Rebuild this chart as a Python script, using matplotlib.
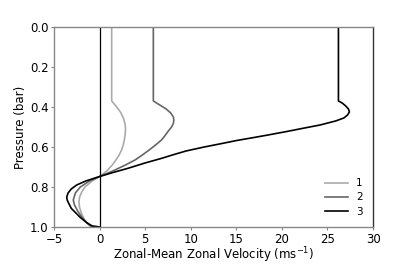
import matplotlib
matplotlib.use("Agg")
import matplotlib.pyplot as plt

# pressure (bar) / zonal-mean zonal velocity (m/s)
p1 = [0.0, 0.37, 0.39, 0.41, 0.43, 0.46, 0.49, 0.515, 0.54, 0.565, 0.59, 0.615,
      0.64, 0.665, 0.69, 0.72, 0.748, 0.77, 0.8, 0.825, 0.85, 0.873, 0.9, 0.93,
      0.96, 0.98, 0.995, 1.0]
u1 = [1.33, 1.33, 1.7, 2.05, 2.35, 2.65, 2.82, 2.85, 2.8, 2.72, 2.6, 2.42,
      2.15, 1.8, 1.4, 0.8, 0.0, -0.8, -1.6, -1.95, -2.18, -2.26, -2.2, -2.0,
      -1.7, -1.4, -1.0, 0.0]

p2 = [0.0, 0.37, 0.39, 0.41, 0.43, 0.45, 0.465, 0.482, 0.5, 0.52, 0.545, 0.565,
      0.59, 0.615, 0.64, 0.665, 0.69, 0.715, 0.73, 0.748, 0.77, 0.8, 0.83,
      0.865, 0.89, 0.92, 0.95, 0.98, 0.995, 1.0]
u2 = [5.9, 5.9, 6.6, 7.3, 7.8, 8.1, 8.15, 8.1, 7.9, 7.55, 7.15, 6.8,
      6.15, 5.45, 4.7, 3.9, 2.85, 1.7, 0.95, 0.0, -1.1, -2.1, -2.65,
      -2.88, -2.75, -2.4, -1.95, -1.4, -1.0, 0.0]

p3 = [0.0, 0.37, 0.38, 0.395, 0.41, 0.425, 0.44, 0.455, 0.47, 0.49, 0.505,
      0.523, 0.54, 0.553, 0.568, 0.582, 0.6, 0.62, 0.64, 0.657, 0.68, 0.707,
      0.73, 0.748, 0.77, 0.79, 0.81, 0.83, 0.85, 0.865, 0.88, 0.907, 0.93,
      0.955, 0.975, 0.99, 0.997, 1.0]
u3 = [26.2, 26.2, 26.6, 27.0, 27.3, 27.4, 27.2, 26.8, 25.9, 24.2, 22.5,
      20.5, 18.5, 16.9, 15.0, 13.5, 11.5, 9.5, 8.0, 6.8, 5.0, 3.1,
      1.3, 0.0, -1.5, -2.5, -3.1, -3.45, -3.6, -3.55, -3.4, -3.1, -2.6,
      -2.05, -1.5, -1.0, -0.7, 0.0]

labels = ["1", "2", "3"]
colors = ["#aaaaaa", "#666666", "#000000"]

fig = plt.figure(figsize=(4.15, 2.67), dpi=100)
ax = fig.add_axes([0.130, 0.150, 0.769, 0.749])

for p, u, lab, c in zip([p1, p2, p3], [u1, u2, u3], labels, colors):
    ax.plot(u, p, color=c, lw=1.2, label=lab)
ax.axvline(0, color="black", lw=0.9)

ax.set_xlim(-5, 30)
ax.set_ylim(1.0, 0.0)
ax.set_xticks([-5, 0, 5, 10, 15, 20, 25, 30])
ax.set_yticks([0.0, 0.2, 0.4, 0.6, 0.8, 1.0])
ax.set_xlabel(r"Zonal-Mean Zonal Velocity (ms$^{-1}$)", fontsize=8.5, labelpad=0)
ax.set_ylabel("Pressure (bar)", fontsize=8.5, labelpad=2)
ax.tick_params(labelsize=8.5, length=2.5, width=0.8, color="#888888", pad=1.5)

for side in ["left", "bottom", "top"]:
    ax.spines[side].set_color("#888888")
ax.spines["right"].set_color("#333333")
for s in ax.spines.values():
    s.set_linewidth(1.0)

ax.legend(loc="lower right", frameon=False, fontsize=7.5, handlelength=2.2,
          labelspacing=0.4, borderaxespad=0.6)

fig.savefig("out.png", dpi=100)
